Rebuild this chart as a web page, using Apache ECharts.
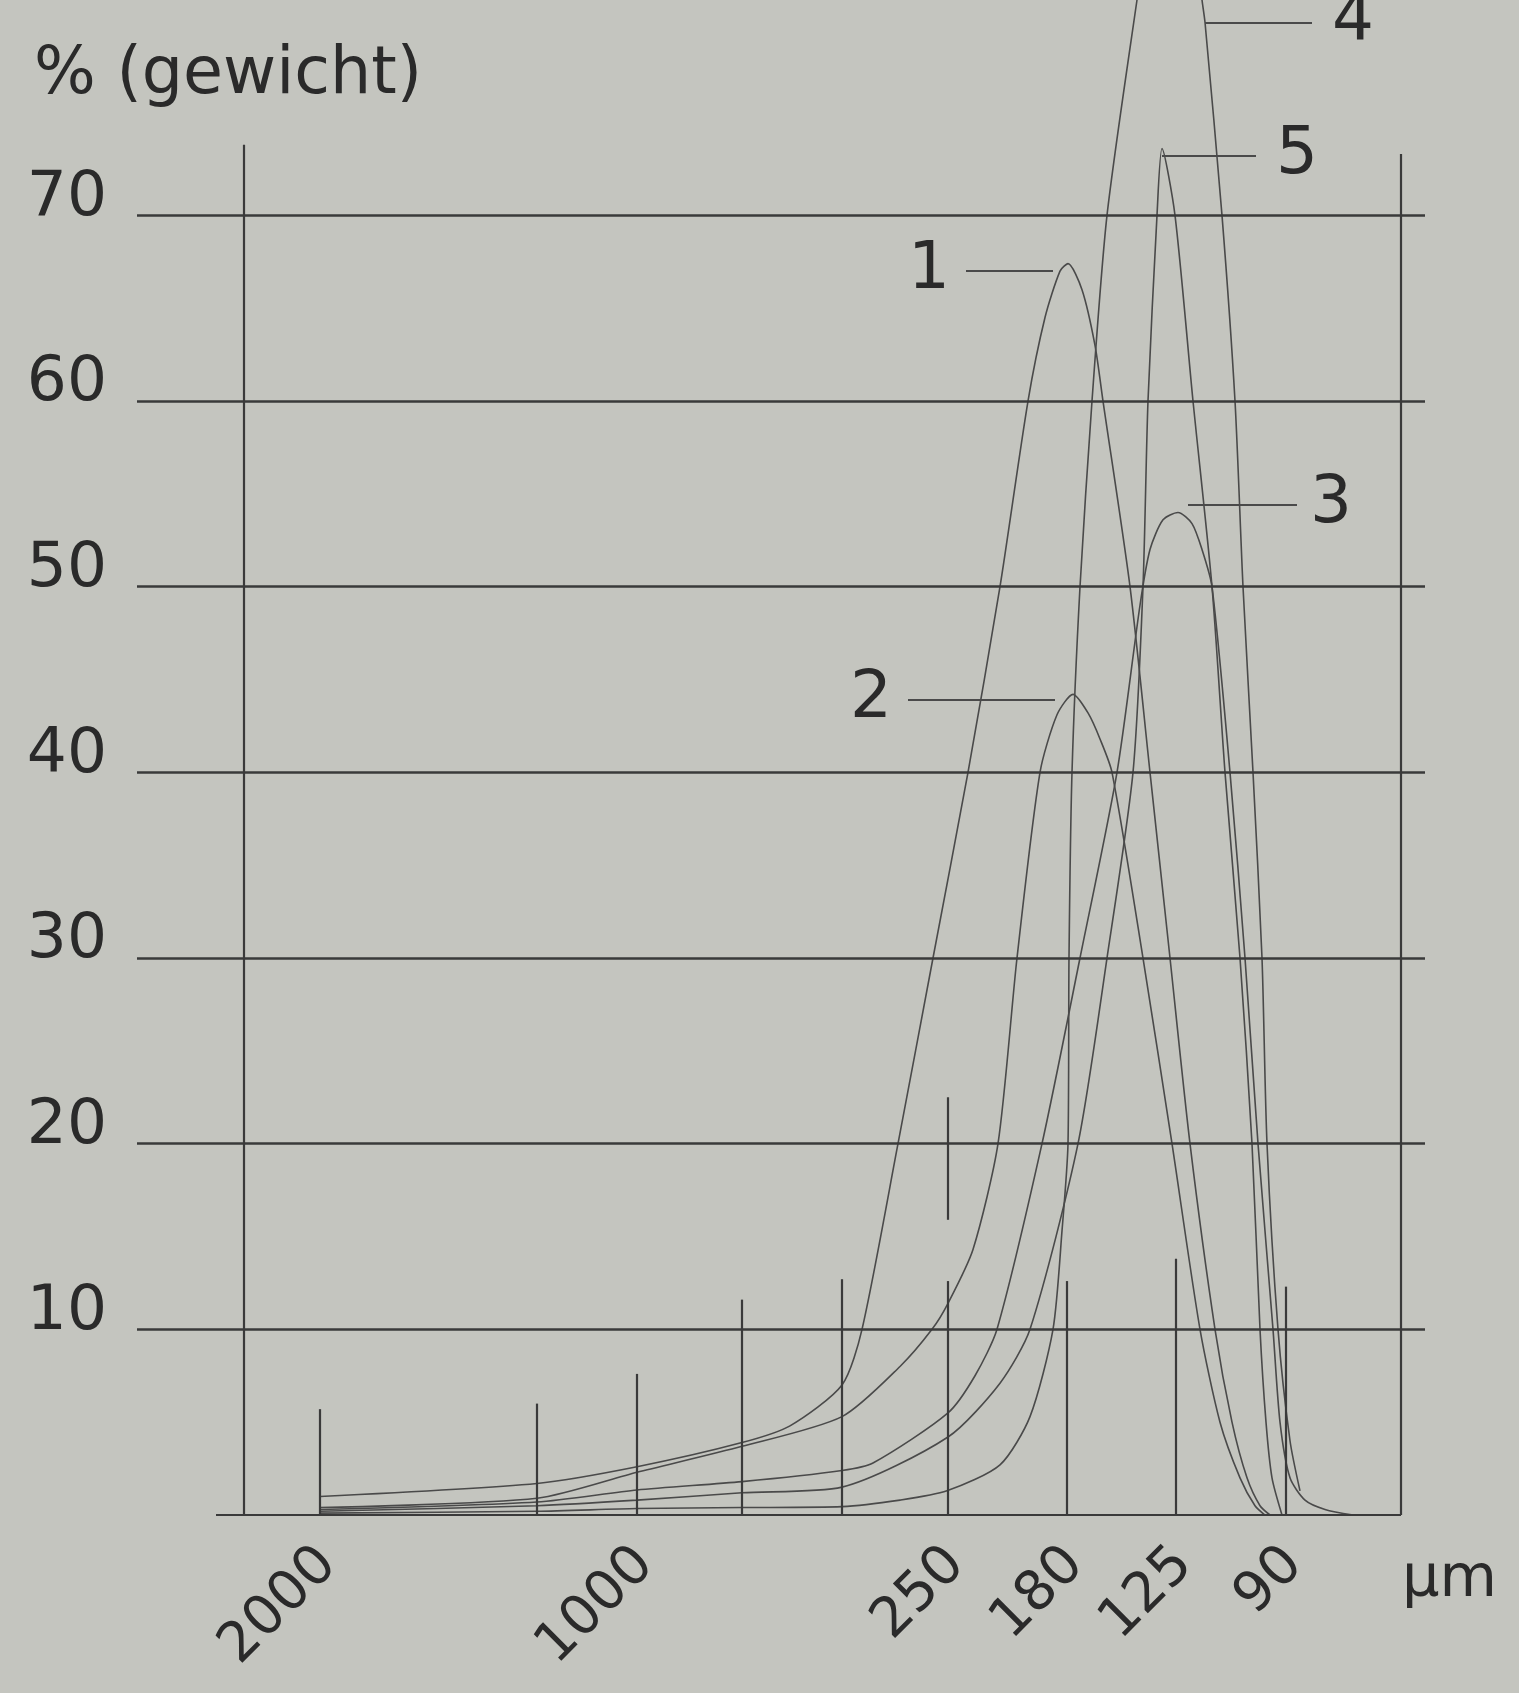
<!DOCTYPE html>
<html><head><meta charset="utf-8">
<style>html,body{margin:0;padding:0;background:#c4c5bf;}#c{width:1519px;height:1693px;}</style>
<script src="https://cdn.jsdelivr.net/npm/echarts@6/dist/echarts.min.js"></script>
</head><body><div id="c"></div>
<script>
// sieve scale (schematic position along the x axis) and labels
const sievePos = [0.76, 2.93, 3.93, 4.98, 5.98, 7.04, 8.23, 9.32, 10.42];
const sieveLabels = ['2000', '', '1000', '', '', '250', '180', '125', '90'];
const tickHeights = [5.7, 6.0, 7.6, 11.6, 12.7, 12.6, 12.6, 13.8, 12.3];
const yTicks = [10, 20, 30, 40, 50, 60, 70];

// curve 1
const c1X = [0.76,2.93,3.93,4.98,5.46,5.98,6.18,6.54,6.89,7.24,7.56,7.84,8.01,8.16,8.24,8.38,8.51,8.59,8.86,9.06,9.26,9.46,9.71,9.88,10.03,10.16,10.26];
const c1Y = [1.0,1.7,2.6,3.9,4.8,7.0,10,20,30,40,50,60,64.5,67,67.4,66,63,60,50,40,30,20,10,5,2,0.5,0];
// curve 2
const c2X = [0.76,2.93,3.93,4.98,5.98,6.56,6.88,7.04,7.29,7.54,7.73,7.96,8.13,8.29,8.44,8.56,8.68,8.99,9.28,9.56,9.76,9.96,10.11,10.21];
const c2Y = [0.4,0.9,2.3,3.7,5.3,8,10,11.4,14.3,20,30,40,43.1,44.2,43.2,41.8,40,30,20,10,5,2,0.5,0];
// curve 3
const c3X = [0.76,2.93,3.93,4.98,5.98,6.29,7.04,7.31,7.53,7.98,8.36,8.73,8.96,9.06,9.19,9.34,9.48,9.58,9.68,9.86,10.01,10.14,10.29,10.36,10.46,10.61,10.81,11.09];
const c3Y = [0.3,0.7,1.35,1.8,2.4,2.8,5.5,7.5,10,20,30,40,49,52,53.6,54.0,53.4,52,50,40,30,20,10,5,2,0.8,0.3,0];
// curve 4
const c4X = [0.76,2.93,3.93,4.98,5.98,6.56,7.03,7.56,7.86,8.09,8.18,8.24,8.25,8.28,8.36,8.48,8.63,8.93,9.11,9.28,9.46,9.58,9.61,9.78,9.91,9.99,10.09,10.18,10.23,10.34,10.46,10.56];
const c4Y = [0.1,0.2,0.35,0.4,0.45,0.8,1.3,2.7,5.3,10,15.3,20,30,40,50,60,70,81.6,88,90,87,81.6,80.4,70,60,50,40,30,20,10,4,1.3];
// curve 5
const c5X = [0.76,2.93,3.93,4.98,5.98,7.04,7.56,7.86,8.34,8.63,8.89,8.99,9.04,9.13,9.18,9.31,9.49,9.68,9.81,9.96,10.08,10.16,10.22,10.28,10.38];
const c5Y = [0.2,0.5,0.8,1.2,1.5,4.2,7.1,10,20,30,40,50,60,70,73.6,70,60,50,40,30,20,10,5,2,0];

// curve name labels with leader lines
const leaderNames = ['1', '2', '3', '4', '5'];
const leaderStart = [7.22, 6.64, 9.44, 9.61, 9.18];
const leaderEnd = [8.09, 8.11, 10.53, 10.68, 10.12];
const leaderY = [67.0, 43.9, 54.4, 80.4, 73.2];
const leaderSide = ['start', 'start', 'end', 'end', 'end'];

const BG = '#c4c5bf', TXT = '#2a2a2a', GRID = '#3a3a3a', CURVE = '#4a4a4a';
const FONT = '"DejaVu Sans", Verdana, sans-serif';
const X_MIN = -1.07, X_MAX = 11.81;

function zip(xs, ys) { return xs.map((x, i) => [x, ys[i]]); }
const labeledPos = sievePos.filter((p, i) => sieveLabels[i] !== '');
function labelFor(v) {
  let best = 0, d = 1e9;
  sievePos.forEach((p, i) => { const dd = Math.abs(p - v); if (dd < d) { d = dd; best = i; } });
  return sieveLabels[best];
}

// horizontal grid lines
const gridLines = yTicks.map(v => [{coord: [X_MIN, v]}, {coord: [X_MAX, v]}]);

const frameLines = [];
frameLines.push([{coord: [-0.28, 0]}, {coord: [11.57, 0]}]);      // baseline
frameLines.push([{coord: [0, 0]}, {coord: [0, 73.8]}]);           // left axis
frameLines.push([{coord: [11.57, 0]}, {coord: [11.57, 73.3]}]);   // right border
sievePos.forEach((p, i) => frameLines.push([{coord: [p, 0]}, {coord: [p, tickHeights[i]]}]));
frameLines.push([{coord: [sievePos[5], 15.9]}, {coord: [sievePos[5], 22.5]}]);  // stray stroke above 250

const leaderLines = leaderNames.map((n, i) => [
  {coord: [leaderStart[i], leaderY[i]], label: {show: true, position: leaderSide[i], formatter: n,
    distance: leaderSide[i] === 'end' ? (n === '3' ? 13 : 20) : 16}},
  {coord: [leaderEnd[i], leaderY[i]]}
]);

const curveSeries = [zip(c1X, c1Y), zip(c2X, c2Y), zip(c3X, c3Y), zip(c4X, c4Y), zip(c5X, c5Y)].map((d, i) => ({
  type: 'line', name: String(i + 1), data: d, showSymbol: false, smooth: 0.25, clip: false,
  lineStyle: {color: CURVE, width: 1.6}, z: 3
}));

const chart = echarts.init(document.getElementById('c'), null, {renderer: 'canvas'});
chart.setOption({
  backgroundColor: BG,
  animation: false,
  grid: {left: 137, right: 94, top: 0, bottom: 178},
  xAxis: {
    type: 'value', min: X_MIN, max: X_MAX,
    axisLine: {show: false}, axisTick: {show: false}, splitLine: {show: false},
    axisLabel: {customValues: labeledPos, rotate: 45, margin: 50, fontSize: 55, color: TXT, fontFamily: FONT,
      padding: [0, -12, 0, 0], formatter: labelFor}
  },
  yAxis: {
    type: 'value', min: 0, max: 81.6,
    axisLine: {show: false}, axisTick: {show: false}, splitLine: {show: false},
    axisLabel: {customValues: yTicks, margin: 30, fontSize: 63, color: TXT, fontFamily: FONT,
      verticalAlign: 'bottom', lineHeight: 34}
  },
  graphic: [
    {type: 'text', left: 34, top: 44, style: {text: '% (gewicht)', font: '65px ' + FONT, fill: TXT}},
    {type: 'text', left: 1402, top: 1551, style: {text: 'µm', font: '59px ' + FONT, fill: TXT}}
  ],
  series: [
    {
      type: 'line', data: [], silent: true,
      markLine: {silent: true, symbol: ['none', 'none'], animation: false, precision: 4,
        lineStyle: {color: GRID, width: 2.6, type: 'solid'}, label: {show: false}, data: gridLines}
    },
    {
      type: 'line', data: [], silent: true,
      markLine: {silent: true, symbol: ['none', 'none'], animation: false,
        lineStyle: {color: GRID, width: 2.2, type: 'solid'}, label: {show: false}, data: frameLines}
    },
    {
      type: 'line', data: [], silent: true,
      markLine: {silent: true, symbol: ['none', 'none'], animation: false,
        lineStyle: {color: CURVE, width: 1.8, type: 'solid'},
        label: {show: false, fontSize: 66, color: TXT, fontFamily: FONT}, data: leaderLines}
    }
  ].concat(curveSeries)
});
</script></body></html>
